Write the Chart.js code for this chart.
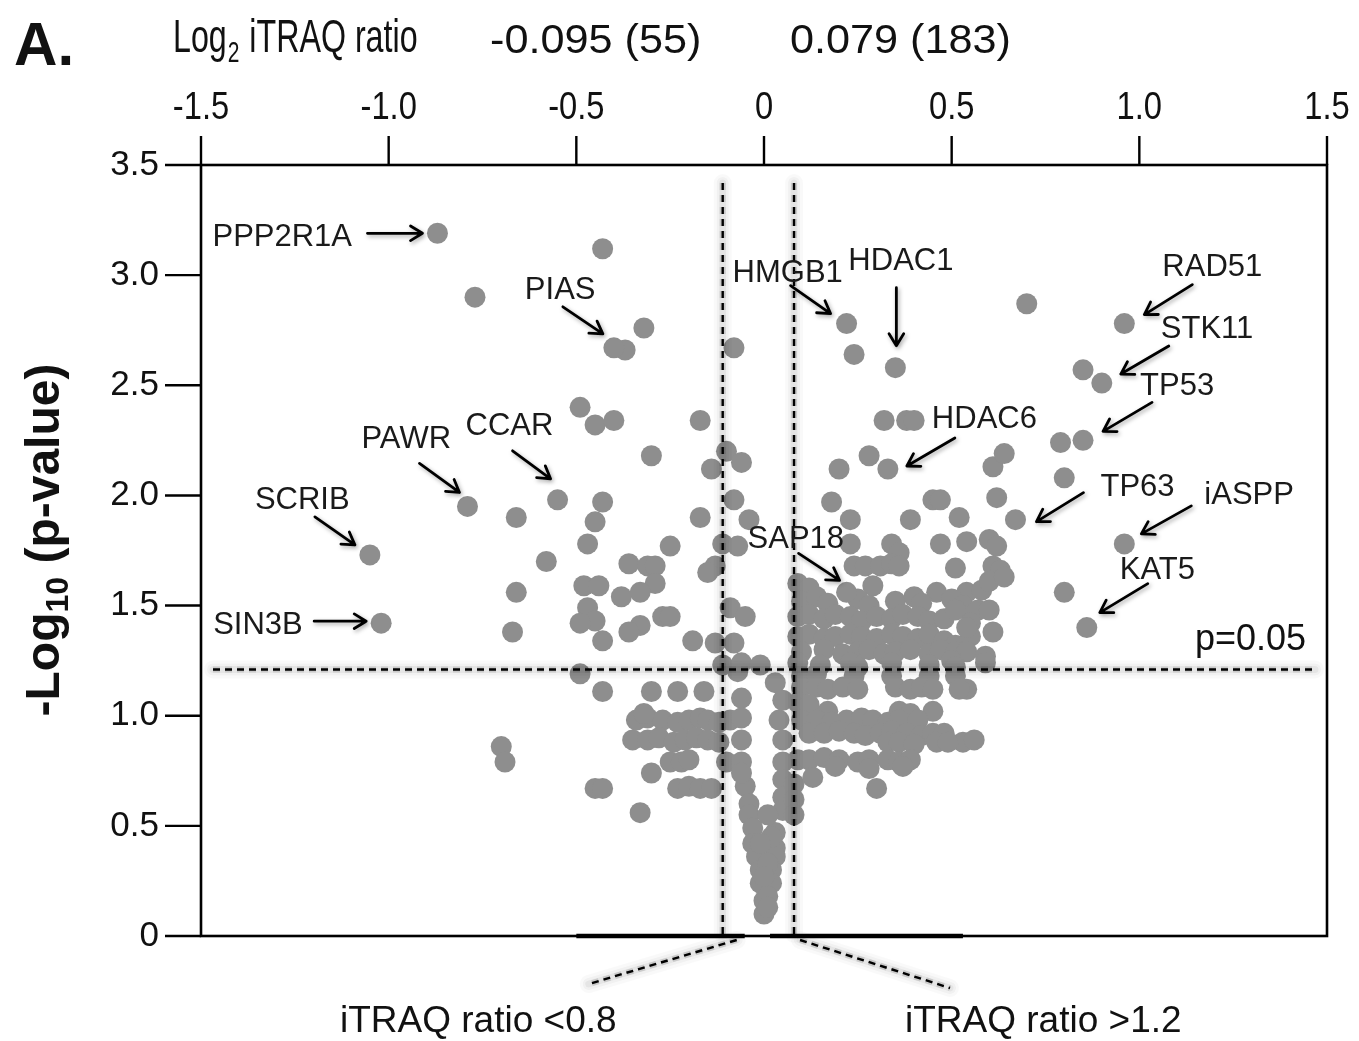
<!DOCTYPE html>
<html><head><meta charset="utf-8">
<script src="https://cdn.jsdelivr.net/npm/chart.js@4.4.1/dist/chart.umd.min.js"></script>
<style>html,body{margin:0;padding:0;background:#fff}canvas{display:block}</style>
</head><body>
<canvas id="c" width="1359" height="1041"></canvas>
<script>
// ---------- tick labels ----------
const xTicks = [-1.5, -1.0, -0.5, 0, 0.5, 1.0, 1.5];
const xTickLabels = ['-1.5', '-1.0', '-0.5', '0', '0.5', '1.0', '1.5'];
const yTicks = [0, 0.5, 1.0, 1.5, 2.0, 2.5, 3.0, 3.5];
const yTickLabels = ['0', '0.5', '1.0', '1.5', '2.0', '2.5', '3.0', '3.5'];

// ---------- cut-offs (log2 ratio lines, -log10 p line) ----------
const ratioCutoffs = [-0.11, 0.08];
const pCutoff = 1.21;
const cutoffLabels = ['-0.095 (55)', '0.079 (183)'];

// ---------- labelled proteins ----------
const geneNames = ['PPP2R1A','PIAS','HMGB1','HDAC1','RAD51','STK11','TP53','HDAC6','CCAR','PAWR','SCRIB','TP63','iASPP','SAP18','KAT5','SIN3B'];
const geneLog2 = [-0.87, -0.40, 0.22, 0.35, 0.96, 0.90, 0.85, 0.33, -0.55, -0.79, -1.05, 0.67, 0.96, 0.22, 0.86, -1.02];
const geneNegLogP = [3.19, 2.67, 2.78, 2.58, 2.78, 2.51, 2.25, 2.12, 1.98, 1.95, 1.73, 1.89, 1.78, 1.56, 1.40, 1.42];

// ---------- other proteins: [log2 ratio, -log10 p] ----------
const upperLeft = [
 [-0.43,3.12],[-0.77,2.90],[-0.32,2.76],[-0.37,2.66],[-0.08,2.67],
 [-0.49,2.40],[-0.45,2.32],[-0.40,2.34],[-0.17,2.34],
 [-0.30,2.18],[-0.10,2.20],[-0.06,2.15],[-0.14,2.12],
 [-0.66,1.90],[-0.43,1.97],[-0.45,1.88],[-0.17,1.90],[-0.08,1.98],[-0.04,1.89],
 [-0.58,1.70],[-0.47,1.78],[-0.25,1.77],[-0.11,1.78],[-0.07,1.77],
 [-0.36,1.69],[-0.31,1.68],[-0.29,1.68],[-0.13,1.68],[-0.15,1.65],
 [-0.48,1.59],[-0.44,1.59],[-0.29,1.60],[-0.33,1.56],[-0.38,1.54],[-0.66,1.56],
 [-0.47,1.49],[-0.45,1.43],[-0.49,1.42],[-0.27,1.45],[-0.25,1.45],[-0.09,1.49],[-0.05,1.45],
 [-0.33,1.41],[-0.36,1.38],[-0.43,1.34],[-0.19,1.34],[-0.13,1.33],[-0.08,1.33],
 [-0.67,1.38],
 [-0.11,1.23],[-0.06,1.24],[-0.01,1.23],[-0.07,1.20],[-0.49,1.19]
];
const upperRight = [
 [0.24,2.64],[0.70,2.87],[0.85,2.57],
 [0.32,2.34],[0.38,2.34],[0.40,2.34],[0.79,2.24],
 [0.28,2.18],[0.20,2.12],[0.61,2.13],[0.64,2.19],[0.80,2.08],
 [0.18,1.97],[0.45,1.98],[0.47,1.98],[0.62,1.99],
 [0.23,1.89],[0.39,1.89],[0.52,1.90],
 [0.23,1.78],[0.34,1.78],[0.36,1.74],[0.47,1.78],[0.54,1.79],[0.60,1.80],[0.62,1.77],
 [0.24,1.68],[0.27,1.68],[0.31,1.68],[0.34,1.69],[0.36,1.68],[0.51,1.67],[0.61,1.68],[0.63,1.66],
 [0.29,1.59],[0.46,1.56],[0.54,1.56],[0.58,1.57],[0.60,1.61],[0.64,1.63],[0.80,1.56],
 [0.09,1.60],[0.12,1.58],
 [0.10,1.52],[0.14,1.54],[0.17,1.51],[0.25,1.53],[0.28,1.50],[0.35,1.52],[0.40,1.54],[0.42,1.51],[0.50,1.53],[0.53,1.50],[0.57,1.48],[0.60,1.48],
 [0.09,1.45],[0.12,1.46],[0.16,1.44],[0.19,1.46],[0.23,1.45],[0.26,1.43],[0.30,1.45],[0.34,1.44],[0.37,1.46],[0.41,1.45],[0.44,1.43],[0.48,1.44],[0.51,1.48],[0.55,1.42],
 [0.09,1.36],[0.12,1.37],[0.16,1.35],[0.19,1.36],[0.23,1.37],[0.26,1.36],[0.30,1.35],[0.34,1.37],[0.37,1.36],[0.41,1.35],[0.44,1.37],[0.48,1.34],[0.51,1.32],[0.55,1.36],[0.61,1.38],[0.54,1.40],
 [0.10,1.29],[0.16,1.30],[0.21,1.28],[0.25,1.29],[0.28,1.30],[0.32,1.28],[0.35,1.29],[0.39,1.30],[0.44,1.28],[0.47,1.30],[0.51,1.29],[0.54,1.29],[0.59,1.27],
 [0.09,1.24],[0.15,1.23],[0.23,1.24],[0.25,1.22],[0.34,1.24],[0.44,1.23],[0.50,1.25],[0.51,1.22],[0.59,1.24]
];
const lowerLeft = [
 [-0.43,1.11],[-0.30,1.11],[-0.23,1.11],[-0.16,1.11],[-0.06,1.08],
 [-0.34,0.98],[-0.31,0.99],[-0.27,0.98],[-0.23,0.97],[-0.20,0.98],[-0.17,0.99],[-0.15,0.98],[-0.12,0.97],[-0.09,0.98],[-0.06,0.99],[-0.32,1.01],
 [-0.35,0.89],[-0.31,0.89],[-0.28,0.90],[-0.24,0.88],[-0.21,0.89],[-0.18,0.90],[-0.15,0.89],[-0.12,0.88],[-0.06,0.89],
 [-0.25,0.79],[-0.22,0.79],[-0.20,0.80],[-0.10,0.79],[-0.06,0.79],[-0.30,0.74],
 [-0.45,0.67],[-0.43,0.67],[-0.23,0.67],[-0.20,0.68],[-0.17,0.67],[-0.14,0.67],
 [-0.33,0.56],[-0.70,0.86],[-0.69,0.79]
];
const lowerRight = [
 [0.24,1.18],[0.34,1.18],[0.44,1.18],[0.51,1.18],[0.10,1.18],[0.14,1.19],
 [0.10,1.13],[0.14,1.13],[0.17,1.12],[0.21,1.13],[0.25,1.12],[0.35,1.13],[0.39,1.12],[0.42,1.13],[0.45,1.12],[0.54,1.12],[0.52,1.12],
 [0.09,1.06],[0.12,1.05],
 [0.17,1.02],[0.36,1.02],[0.39,1.01],[0.45,1.02],
 [0.10,0.98],[0.14,0.98],[0.18,0.97],[0.22,0.98],[0.26,0.99],[0.29,0.98],[0.33,0.97],[0.36,0.98],[0.41,0.98],
 [0.12,0.92],[0.16,0.92],[0.20,0.93],[0.24,0.92],[0.27,0.91],[0.31,0.92],[0.34,0.93],[0.38,0.92],[0.42,0.91],[0.45,0.92],[0.48,0.92],
 [0.53,0.88],[0.56,0.89],[0.46,0.88],[0.49,0.88],[0.33,0.88],[0.36,0.88],[0.40,0.87],
 [0.09,0.80],[0.12,0.80],[0.16,0.81],[0.20,0.80],[0.25,0.79],[0.28,0.80],[0.33,0.80],[0.36,0.79],[0.39,0.80],
 [0.19,0.77],[0.28,0.76],[0.37,0.77],
 [0.13,0.72],[0.30,0.67]
];
const centralV = [
 [-0.05,0.68],[-0.04,0.60],[-0.04,0.55],[-0.03,0.49],[-0.03,0.42],[-0.02,0.36],[-0.01,0.30],[-0.01,0.24],[0.00,0.16],[0.00,0.10],
 [0.03,1.15],[0.05,1.07],[0.04,0.98],[0.05,0.89],[0.05,0.79],[0.05,0.71],[0.05,0.63],[0.05,0.57],[0.03,0.47],[0.03,0.40],[0.03,0.36],[0.02,0.30],[0.02,0.24],[0.01,0.18],
 [0.08,0.69],[0.08,0.62],[0.08,0.55],
 [0.01,0.55],[0.02,0.45],[-0.01,0.42],[0.01,0.33],[-0.06,0.74],[0.00,0.27],[0.01,0.13]
];

// ---------- layout for annotations (pixel offsets from the point) ----------
const labelLayout = {
 PPP2R1A:{t:[-225,13], a:[-70,0,-15,0]},
 PIAS:{t:[-89,-49], a:[-51,-41,-11,-14]},
 HMGB1:{t:[-114,-42], a:[-56,-38,-16,-10]},
 HDAC1:{t:[-47,-98], a:[1,-80,1,-22]},
 RAD51:{t:[38,-48], a:[68,-39,20,-9]},
 STK11:{t:[59,-45], a:[67,-37,19,-9]},
 TP53:{t:[57,-45], a:[69,-38,20,-9]},
 HDAC6:{t:[44,-41], a:[67,-31,19,-3]},
 CCAR:{t:[-92,-65], a:[-45,-49,-7,-21]},
 PAWR:{t:[-106,-58], a:[-48,-43,-8,-14]},
 SCRIB:{t:[-115,-46], a:[-55,-38,-15,-10]},
 TP63:{t:[85,-24], a:[68,-27,21,2]},
 iASPP:{t:[80,-40], a:[67,-38,17,-10]},
 SAP18:{t:[-99,-44], a:[-48,-39,-7,-12]},
 KAT5:{t:[33,-49], a:[61,-44,13,-15]},
 SIN3B:{t:[-168,11], a:[-67,-2,-15,-2]}
};

const FONT = '"Liberation Sans", Arial, Helvetica, sans-serif';

function txt(ctx, s, x, y, size, opts = {}) {
  ctx.save();
  ctx.font = (opts.bold ? 'bold ' : '') + size + 'px ' + FONT;
  ctx.textAlign = opts.align || 'left';
  ctx.textBaseline = opts.base || 'alphabetic';
  ctx.fillStyle = opts.color || '#111';
  ctx.translate(x, y);
  ctx.scale(opts.sx || 1, 1);
  ctx.fillText(s, 0, 0);
  ctx.restore();
}

function arrow(ctx, x1, y1, x2, y2) {
  ctx.save();
  ctx.strokeStyle = '#000';
  ctx.lineWidth = 2.8;
  ctx.lineCap = 'round';
  ctx.lineJoin = 'round';
  ctx.shadowColor = 'rgba(0,0,0,0.35)';
  ctx.shadowBlur = 4;
  ctx.shadowOffsetX = 1.5;
  ctx.shadowOffsetY = 2;
  const ang = Math.atan2(y2 - y1, x2 - x1);
  const L = 14, w = 0.55;
  ctx.beginPath();
  ctx.moveTo(x1, y1); ctx.lineTo(x2, y2);
  ctx.moveTo(x2 - L * Math.cos(ang - w), y2 - L * Math.sin(ang - w));
  ctx.lineTo(x2, y2);
  ctx.lineTo(x2 - L * Math.cos(ang + w), y2 - L * Math.sin(ang + w));
  ctx.stroke();
  ctx.restore();
}

function dashed(ctx, x1, y1, x2, y2, glow) {
  ctx.save();
  if (glow) {
    // soft grey halo around the dashes (layered translucent strokes)
    ctx.lineCap = 'round';
    ctx.setLineDash([]);
    [[18, 0.025], [12, 0.035], [7, 0.05]].forEach(([w, al]) => {
      ctx.strokeStyle = 'rgba(0,0,0,' + al + ')';
      ctx.lineWidth = w;
      ctx.beginPath(); ctx.moveTo(x1, y1); ctx.lineTo(x2, y2); ctx.stroke();
    });
    ctx.lineCap = 'butt';
    ctx.setLineDash([7, 5]);
    ctx.strokeStyle = 'rgba(0,0,0,0.12)';
    ctx.lineWidth = 6;
    ctx.beginPath(); ctx.moveTo(x1, y1); ctx.lineTo(x2, y2); ctx.stroke();
  }
  ctx.setLineDash([7, 5]);
  ctx.lineWidth = 2.4;
  ctx.strokeStyle = '#000';
  ctx.beginPath(); ctx.moveTo(x1, y1); ctx.lineTo(x2, y2); ctx.stroke();
  ctx.restore();
}

const overlay = {
  id: 'overlay',
  afterDatasetsDraw(chart) {
    const ctx = chart.ctx, xs = chart.scales.x, ys = chart.scales.y, a = chart.chartArea;
    // cut-off lines
    const xl = xs.getPixelForValue(ratioCutoffs[0]), xr = xs.getPixelForValue(ratioCutoffs[1]);
    const yp = ys.getPixelForValue(pCutoff);
    dashed(ctx, xl, a.top + 18, xl, a.bottom - 2, true);
    dashed(ctx, xr, a.top + 18, xr, a.bottom - 2, true);
    dashed(ctx, a.left + 12, yp, a.right - 12, yp, true);
    // frame
    ctx.save();
    ctx.strokeStyle = '#000'; ctx.lineWidth = 2.6;
    ctx.strokeRect(a.left, a.top, a.right - a.left, a.bottom - a.top);
    // thick bottom segments
    ctx.lineWidth = 4.5;
    ctx.beginPath();
    ctx.moveTo(xs.getPixelForValue(-0.5), a.bottom); ctx.lineTo(xl + 22, a.bottom);
    ctx.moveTo(xr - 24, a.bottom); ctx.lineTo(xs.getPixelForValue(0.53), a.bottom);
    ctx.stroke();
    // top ticks
    ctx.lineWidth = 2.4;
    ctx.beginPath();
    xTicks.forEach(v => { const p = xs.getPixelForValue(v); ctx.moveTo(p, a.top - 29); ctx.lineTo(p, a.top); });
    // left ticks
    yTicks.forEach(v => { const p = ys.getPixelForValue(v); ctx.moveTo(a.left - 36, p); ctx.lineTo(a.left, p); });
    ctx.stroke();
    ctx.restore();
    // tick labels
    xTicks.forEach((v, i) => txt(ctx, xTickLabels[i], xs.getPixelForValue(v), a.top - 46, 38, {align: 'center', sx: 0.86}));
    yTicks.forEach((v, i) => txt(ctx, yTickLabels[i], a.left - 42, ys.getPixelForValue(v), 35, {align: 'right', base: 'middle'}));
    // bottom diagonals and labels
    dashed(ctx, xl + 14, a.bottom + 4, xl - 134, a.bottom + 48, true);
    dashed(ctx, xr + 6, a.bottom + 4, xr + 156, a.bottom + 52, true);
    txt(ctx, 'iTRAQ ratio <0.8', 340, 1032, 37);
    txt(ctx, 'iTRAQ ratio >1.2', 905, 1032, 37);
    txt(ctx, 'p=0.05', a.right - 132, yp - 19, 36);
    // header
    txt(ctx, 'A.', 14, 65, 62, {bold: true, sx: 0.97});
    ctx.save();
    ctx.font = '46px ' + FONT;
    const sx = 0.7;
    const wLog = ctx.measureText('Log').width * sx;
    txt(ctx, 'Log', 173, 52, 46, {sx});
    txt(ctx, '2', 173 + wLog + 1, 62, 30, {sx});
    ctx.font = '30px ' + FONT;
    const w2 = ctx.measureText('2').width * sx;
    txt(ctx, ' iTRAQ ratio', 173 + wLog + w2 + 2, 52, 46, {sx});
    ctx.restore();
    txt(ctx, cutoffLabels[0], 490, 53, 40, {sx: 1.08});
    txt(ctx, cutoffLabels[1], 790, 53, 40, {sx: 1.08});
    // y title
    ctx.save();
    ctx.translate(42, 540); ctx.rotate(-Math.PI / 2);
    ctx.font = 'bold 48px ' + FONT;
    const p1 = '-Log', p3 = ' (p-value)';
    const w1 = ctx.measureText(p1).width, w3 = ctx.measureText(p3).width;
    ctx.font = 'bold 32px ' + FONT;
    const wsub = ctx.measureText('10').width;
    const start = -(w1 + wsub + w3) / 2;
    ctx.fillStyle = '#111';
    ctx.font = 'bold 48px ' + FONT; ctx.fillText(p1, start, 17);
    ctx.font = 'bold 32px ' + FONT; ctx.fillText('10', start + w1, 26);
    ctx.font = 'bold 48px ' + FONT; ctx.fillText(p3, start + w1 + wsub, 17);
    ctx.restore();
    // gene labels
    geneNames.forEach((g, i) => {
      const px = xs.getPixelForValue(geneLog2[i]), py = ys.getPixelForValue(geneNegLogP[i]);
      const L = labelLayout[g];
      txt(ctx, g, px + L.t[0], py + L.t[1], 31, {color: '#1a1a1a'});
      arrow(ctx, px + L.a[0], py + L.a[1], px + L.a[2], py + L.a[3]);
    });
  }
};

const toPts = arr => arr.map(d => ({x: d[0], y: d[1]}));
const allPoints = [].concat(toPts(upperLeft), toPts(upperRight), toPts(lowerLeft), toPts(lowerRight), toPts(centralV),
  geneNames.map((g, i) => ({x: geneLog2[i], y: geneNegLogP[i]})));

new Chart(document.getElementById('c'), {
  type: 'scatter',
  data: { datasets: [{ data: allPoints, pointRadius: 10.5, pointHoverRadius: 10.5, backgroundColor: 'rgb(142,142,142)', borderWidth: 0 }] },
  options: {
    responsive: false, animation: false, devicePixelRatio: 1,
    layout: { padding: { left: 201, right: 32, top: 165, bottom: 105 } },
    plugins: { legend: { display: false }, tooltip: { enabled: false } },
    scales: {
      x: { type: 'linear', min: -1.5, max: 1.5, display: false },
      y: { type: 'linear', min: 0, max: 3.5, display: false }
    },
    clip: false
  },
  plugins: [overlay]
});
</script>
</body></html>
